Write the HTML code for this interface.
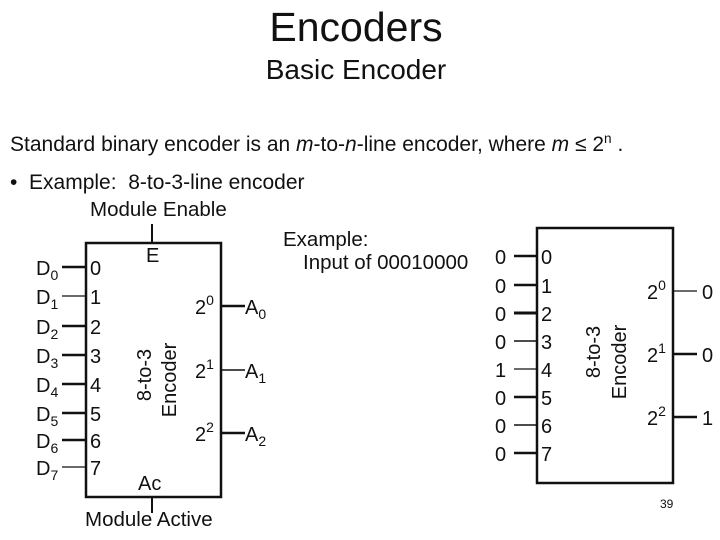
<!DOCTYPE html>
<html><head><style>
body{margin:0;width:720px;height:540px;background:#fff;position:relative;overflow:hidden;font-family:"Liberation Sans",Arial,sans-serif;color:#111}
.t{position:absolute;white-space:nowrap;line-height:1}
sup{font-size:65%;vertical-align:8px}
</style></head><body>
<div class="t" style="left:0;width:712px;text-align:center;top:7px;font-size:41px">Encoders</div>
<div class="t" style="left:0;width:712px;text-align:center;top:56px;font-size:28px">Basic Encoder</div>
<div class="t" style="left:10px;top:132px;font-size:21px">Standard binary encoder is an <i>m</i>-to-<i>n</i>-line encoder, where <i>m</i> ≤ 2<sup>n</sup> .</div>
<div class="t" style="left:10px;top:172px;font-size:21px">•&nbsp;&nbsp;Example:&nbsp; 8-to-3-line encoder</div>
<div class="t" style="left:90px;top:200px;font-size:20.5px">Module Enable</div>
<div class="t" style="left:85px;top:510px;font-size:20.5px">Module Active</div>
<div class="t" style="left:283px;top:230px;font-size:20.5px">Example:</div>
<div class="t" style="left:303px;top:253px;font-size:20.5px">Input of 00010000</div>
<div class="t" style="left:660px;top:498px;font-size:12px">39</div>
<svg width="720" height="540" style="position:absolute;left:0;top:0" font-family="Liberation Sans,Arial,sans-serif" font-size="20" fill="#111">
<g stroke="#111" fill="none">
<rect x="86" y="243" width="135" height="254" stroke-width="2.5"/>
<line x1="152" y1="224" x2="152" y2="243" stroke-width="2"/>
<line x1="152" y1="497" x2="152" y2="513" stroke-width="2"/>
<g stroke-width="2.5">
<line x1="62" y1="267" x2="86" y2="267"/><line x1="62" y1="296" x2="86" y2="296" stroke-width="1.2"/>
<line x1="62" y1="326" x2="86" y2="326"/><line x1="62" y1="355" x2="86" y2="355"/>
<line x1="62" y1="384" x2="86" y2="384"/><line x1="62" y1="413" x2="86" y2="413"/>
<line x1="62" y1="440" x2="86" y2="440"/><line x1="62" y1="467" x2="86" y2="467" stroke-width="1.2"/>
<line x1="221" y1="306" x2="245" y2="306"/><line x1="221" y1="370" x2="245" y2="370" stroke-width="1.5"/><line x1="221" y1="433" x2="245" y2="433"/>
</g>
<rect x="537" y="228" width="136" height="255" stroke-width="2.5"/>
<g stroke-width="2.5">
<line x1="514" y1="256" x2="537" y2="256"/><line x1="514" y1="285" x2="537" y2="285"/>
<line x1="514" y1="313" x2="537" y2="313" stroke-width="3"/><line x1="514" y1="341" x2="537" y2="341" stroke-width="1.5"/>
<line x1="514" y1="369" x2="537" y2="369" stroke-width="1.2"/><line x1="514" y1="397" x2="537" y2="397"/>
<line x1="514" y1="425" x2="537" y2="425" stroke-width="1.5"/><line x1="514" y1="453" x2="537" y2="453"/>
<line x1="673" y1="291" x2="697" y2="291" stroke-width="1.2"/><line x1="673" y1="354" x2="697" y2="354"/><line x1="673" y1="417" x2="697" y2="417"/>
</g>
</g>
<text x="146" y="262">E</text>
<text x="138" y="490">Ac</text>
<g>
<text x="36" y="275">D<tspan font-size="14" dy="5">0</tspan></text>
<text x="36" y="304">D<tspan font-size="14" dy="5">1</tspan></text>
<text x="36" y="334">D<tspan font-size="14" dy="5">2</tspan></text>
<text x="36" y="363">D<tspan font-size="14" dy="5">3</tspan></text>
<text x="36" y="392">D<tspan font-size="14" dy="5">4</tspan></text>
<text x="36" y="421">D<tspan font-size="14" dy="5">5</tspan></text>
<text x="36" y="448">D<tspan font-size="14" dy="5">6</tspan></text>
<text x="36" y="475">D<tspan font-size="14" dy="5">7</tspan></text>
</g>
<g>
<text x="90" y="275">0</text><text x="90" y="304">1</text><text x="90" y="334">2</text><text x="90" y="363">3</text>
<text x="90" y="392">4</text><text x="90" y="421">5</text><text x="90" y="448">6</text><text x="90" y="475">7</text>
</g>
<text x="195" y="314">2<tspan font-size="14" dy="-9">0</tspan></text>
<text x="195" y="378">2<tspan font-size="14" dy="-9">1</tspan></text>
<text x="195" y="441">2<tspan font-size="14" dy="-9">2</tspan></text>
<text x="245" y="314">A<tspan font-size="14" dy="5">0</tspan></text>
<text x="245" y="378">A<tspan font-size="14" dy="5">1</tspan></text>
<text x="245" y="441">A<tspan font-size="14" dy="5">2</tspan></text>
<text transform="translate(151,375) rotate(-90)" text-anchor="middle">8-to-3</text>
<text transform="translate(176,380) rotate(-90)" text-anchor="middle">Encoder</text>
<g>
<text x="495" y="264">0</text><text x="495" y="293">0</text><text x="495" y="321">0</text><text x="495" y="349">0</text>
<text x="495" y="377">1</text><text x="495" y="405">0</text><text x="495" y="433">0</text><text x="495" y="461">0</text>
<text x="541" y="264">0</text><text x="541" y="293">1</text><text x="541" y="321">2</text><text x="541" y="349">3</text>
<text x="541" y="377">4</text><text x="541" y="405">5</text><text x="541" y="433">6</text><text x="541" y="461">7</text>
</g>
<text x="647" y="299">2<tspan font-size="14" dy="-9">0</tspan></text>
<text x="647" y="362">2<tspan font-size="14" dy="-9">1</tspan></text>
<text x="647" y="425">2<tspan font-size="14" dy="-9">2</tspan></text>
<text x="702" y="299">0</text><text x="702" y="362">0</text><text x="702" y="425">1</text>
<text transform="translate(600,352) rotate(-90)" text-anchor="middle">8-to-3</text>
<text transform="translate(626,362) rotate(-90)" text-anchor="middle">Encoder</text>
</svg>
</body></html>
